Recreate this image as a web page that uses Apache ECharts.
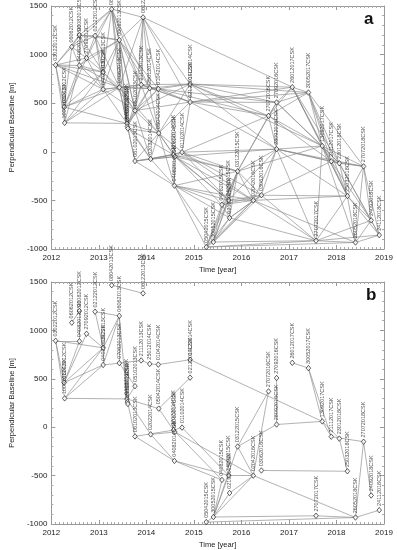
<!DOCTYPE html>
<html><head><meta charset="utf-8">
<script src="https://cdn.jsdelivr.net/npm/echarts@6/dist/echarts.min.js"></script>
<style>html,body{margin:0;padding:0;background:#fff}#c{width:397px;height:550px}</style>
</head><body><div id="c"></div>
<script>
// acquisition times (decimal year)
const times = [2012.09,2012.27,2012.28,2012.43,2012.59,2012.59,2012.74,2012.92,2013.09,2013.09,
2013.27,2013.43,2013.43,2013.59,2013.60,2013.61,2013.76,2013.76,2013.89,2013.93,
2014.07,2014.09,2014.26,2014.25,2014.57,2014.60,2014.59,2014.75,2014.92,2014.92,
2015.26,2015.41,2015.59,2015.73,2015.75,2015.92,2016.25,2016.42,2016.57,2016.74,
2016.74,2017.07,2017.41,2017.57,2017.70,2017.89,2018.06,2018.23,2018.40,2018.57,
2018.73,2018.90];
// perpendicular baselines (m)
const baselines = [893,460,298,1080,1200,888,965,1193,820,643,
1467,1150,662,292,260,240,424,-95,690,1383,
654,-74,192,647,-30,-50,-348,-4,697,512,
-980,-928,-545,-498,-680,-200,-500,-447,370,508,
28,665,610,-915,60,-98,-118,-455,-933,-150,
-705,-857];
const names = ["03022012CSK","08042012CSK","10042012CSK","06062012CSK","03082012CSK","04082012CSK","27092012CSK","02122012CSK","03022013CSK","04022013CSK",
"08042013CSK","06062013CSK","07062013CSK","04082013CSK","05082013CSK","12082013CSK","05102013CSK","06102013CSK","21112013CSK","06122013CSK",
"25012014CSK","02022014CSK","05042014CSK","01042014CSK","27072014CSK","08082014CSK","04082014CSK","01102014CSK","01122014CSK","02122014CSK",
"05042015CSK","30052015CSK","04082015CSK","24092015CSK","02102015CSK","03122015CSK","02042016CSK","03062016CSK","27072016CSK","27092016CSK",
"28092016CSK","26012017CSK","30052017CSK","27072017CSK","13092017CSK","21112017CSK","23012018CSK","25032018CSK","26052018CSK","27072018CSK",
"24092018CSK","24112018CSK"];
// interferometric pairs, panel a (full network)
const edgesA = [
[0,1],[0,2],[0,3],[0,4],[0,5],[0,6],[0,8],[0,9],[0,12],
[1,2],[1,5],[1,6],[1,8],[1,9],[1,12],[1,3],[1,13],
[2,8],[2,9],[2,13],[2,12],[2,5],
[3,4],[3,5],[3,7],[3,10],[3,6],
[4,5],[4,6],[4,7],[4,10],[4,11],[4,8],
[5,6],[5,8],[5,9],[5,11],[5,12],
[6,7],[6,8],[6,9],[6,11],[6,10],
[7,8],[7,10],[7,11],[7,12],[7,9],
[8,9],[8,10],[8,11],[8,12],[8,16],
[9,11],[9,12],[9,13],[9,16],[9,18],
[10,11],[10,19],[10,12],[10,13],[10,18],[10,16],[10,20],
[11,12],[11,13],[11,16],[11,18],[11,19],[11,20],[11,23],[11,14],
[12,13],[12,16],[12,18],[12,20],[12,23],[12,22],[12,15],
[13,14],[13,15],[13,16],[13,17],[13,21],[13,22],[14,18],[14,20],[14,21],[15,17],[15,22],[15,24],[14,16],[13,23],
[16,18],[16,20],[16,22],[16,23],[16,28],[16,29],[16,21],
[17,21],[17,24],[17,25],[17,26],[17,22],
[18,20],[18,23],[18,28],[18,29],[18,19],[18,22],
[19,41],[19,28],[19,20],[19,23],[19,12],[19,16],[19,29],
[20,23],[20,28],[20,29],[20,22],
[21,22],[21,24],[21,25],[21,26],[21,27],
[22,23],[22,24],[22,25],[22,27],[22,26],[22,29],[22,28],
[23,28],[23,29],[23,38],[23,39],
[24,25],[24,26],[24,27],[24,32],[24,33],[24,35],
[25,27],[25,26],[25,36],[25,33],[25,35],[25,40],
[26,30],[26,31],[26,32],[26,33],[26,34],[26,35],[26,36],
[27,29],[27,33],[27,35],[27,36],[27,37],[27,40],[27,38],
[28,29],[28,39],[28,41],[28,42],[28,38],[28,44],[28,40],
[29,38],[29,39],[29,41],[29,40],[29,42],
[30,31],[30,32],[30,33],[30,34],[30,35],[30,48],[30,43],[30,36],
[31,32],[31,33],[31,34],[31,35],[31,36],[31,37],[31,43],
[32,33],[32,34],[32,35],[32,36],[32,37],
[33,34],[33,35],[33,36],[33,37],[33,40],
[34,35],[34,36],[34,37],[34,43],
[35,36],[35,37],[35,38],[35,40],[35,44],[35,39],
[36,37],[36,40],[36,43],[36,47],[36,48],
[37,40],[37,43],[37,47],[37,45],
[38,39],[38,40],[38,41],[38,42],[38,44],[38,45],
[39,40],[39,41],[39,42],[39,44],[39,46],
[40,44],[40,45],[40,46],[40,43],[40,47],[40,49],
[41,42],[41,44],[41,45],[41,46],[41,47],
[42,44],[42,45],[42,46],[42,47],[42,49],
[43,48],[43,47],[43,50],[43,44],[43,51],
[44,45],[44,46],[44,47],[44,49],[44,48],
[45,46],[45,47],[45,49],[45,50],
[46,47],[46,49],[46,50],[46,51],
[47,48],[47,49],[47,50],[47,51],
[48,49],[48,50],[48,51],
[49,50],[49,51],[50,51]];
// interferometric pairs, panel b (selected network)
const edgesB = [
[0,1],[0,2],[0,5],[0,8],[1,5],[1,8],[1,9],[1,6],[2,9],[2,13],[2,8],
[3,4],[4,5],[6,8],[7,8],[7,11],[8,11],[8,9],[9,11],[9,12],[11,12],[11,13],
[12,18],[12,16],[10,19],[13,16],[13,17],[13,21],[13,22],[14,15],
[18,20],[20,23],[23,28],[28,44],[17,24],[17,26],[21,26],[21,25],[22,24],[24,27],[22,29],
[26,32],[26,33],[27,33],[25,36],[24,32],
[30,31],[31,43],[30,48],[43,48],[36,48],
[31,32],[31,33],[31,34],[31,36],[31,35],
[33,36],[34,36],[35,36],[35,40],[35,38],[38,36],
[39,40],[40,44],[41,42],[42,44],[42,45],
[44,45],[44,46],[45,49],[46,47],[37,47],
[49,48],[49,50],[48,51]];

const FONT = 'Liberation Sans';
const chart = echarts.init(document.getElementById('c'), null, {renderer:'canvas'});

const points = times.map((t,i)=>({value:[t, baselines[i]], name:names[i]}));
function edgeData(list){ return list.map(([a,b])=>({coords:[[times[a],baselines[a]],[times[b],baselines[b]]]})); }

function xAx(grid, bottom){
  return {gridIndex:grid, type:'value', min:2012, max:2019, interval:1,
    position: bottom?'bottom':'top',
    axisLine:{show:true, onZero:false, lineStyle:{color:'#999', width:1}},
    axisTick:{show:true, inside:true, length:4, lineStyle:{color:'#999'}},
    minorTick:{show:true, splitNumber:12, length:2, lineStyle:{color:'#aaa'}},
    splitLine:{show:false},
    axisLabel:{show:bottom, fontSize:8, color:'#222', fontFamily:FONT, margin:5, formatter:v=>String(v)},
    name: bottom?'Time [year]':'', nameLocation:'middle', nameGap:17,
    nameTextStyle:{fontSize:7.5, color:'#222', fontFamily:FONT}
  };
}
function yAx(grid, left){
  return {gridIndex:grid, type:'value', min:-1000, max:1500, interval:500,
    position: left?'left':'right',
    axisLine:{show:true, onZero:false, lineStyle:{color:'#999', width:1}},
    axisTick:{show:true, inside:true, length:4, lineStyle:{color:'#999'}},
    minorTick:{show:true, splitNumber:5, length:2, lineStyle:{color:'#aaa'}},
    splitLine:{show:false},
    axisLabel:{show:left, fontSize:8, color:'#222', fontFamily:FONT, margin:4, formatter:v=>String(v)},
    name: left?'Perpendicular Baseline [m]':'', nameLocation:'middle', nameGap:25,
    nameTextStyle:{fontSize:7.5, color:'#222', fontFamily:FONT}
  };
}
function lineSeries(grid, list){
  return {type:'lines', coordinateSystem:'cartesian2d', xAxisIndex:grid*2, yAxisIndex:grid*2,
    polyline:false, silent:true, z:2,
    lineStyle:{color:'#888', width:0.65, opacity:1},
    data: edgeData(list)};
}
function pointSeries(grid){
  return {type:'scatter', xAxisIndex:grid*2, yAxisIndex:grid*2, z:3, silent:true,
    symbol:'diamond', symbolSize:[4.5,5.5],
    itemStyle:{color:'#fff', borderColor:'#222', borderWidth:0.9},
    label:{show:true, position:'top', distance:1, rotate:90, align:'left', verticalAlign:'middle',
      fontSize:5.5, color:'#222', fontFamily:FONT, formatter:p=>p.name},
    data: points};
}

chart.setOption({
  animation:false,
  backgroundColor:'#fff',
  grid:[{left:33, top:6, width:351, height:243},
        {left:33, top:282, width:351, height:244}],
  xAxis:[xAx(0,true), xAx(0,false), xAx(1,true), xAx(1,false)],
  yAxis:[yAx(0,true), yAx(0,false), yAx(1,true), yAx(1,false)],
  series:[lineSeries(0, edgesA), pointSeries(0), lineSeries(1, edgesB), pointSeries(1)],
  graphic:[
    {type:'text', left:364, top:11, style:{text:'a', fontSize:17, fontWeight:'bold', fill:'#111', fontFamily:FONT}},
    {type:'text', left:366, top:287, style:{text:'b', fontSize:17, fontWeight:'bold', fill:'#111', fontFamily:FONT}}
  ]
});
</script></body></html>
